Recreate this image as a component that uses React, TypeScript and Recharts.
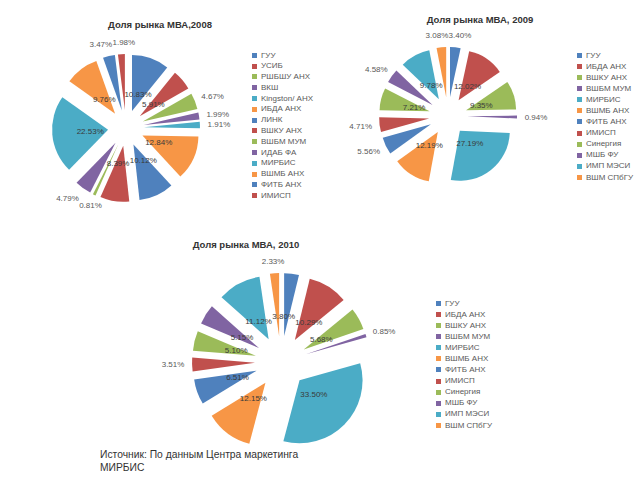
import React from 'react';
import { PieChart, Pie, Cell, Legend } from 'recharts';

// Excel 2007 palette, repeats after six slices
const palette = ['#4F81BD', '#C0504D', '#9BBB59', '#8064A2', '#4BACC6', '#F79646'];

const schools2008 = [
  'ГУУ', 'УСИБ', 'РШБШУ АНХ', 'ВКШ', 'Kingston/ АНХ', 'ИБДА АНХ', 'ЛИНК',
  'ВШКУ АНХ', 'ВШБМ МУМ', 'ИДАБ ФА', 'МИРБИС', 'ВШМБ АНХ', 'ФИТБ АНХ', 'ИМИСП',
];
const share2008 = [10.83, 5.91, 4.67, 1.99, 1.91, 12.84, 10.12, 8.39, 0.81, 4.79, 22.53, 9.76, 3.47, 1.98];

const schools2009 = [
  'ГУУ', 'ИБДА АНХ', 'ВШКУ АНХ', 'ВШБМ МУМ', 'МИРБИС', 'ВШМБ АНХ',
  'ФИТБ АНХ', 'ИМИСП', 'Синергия', 'МШБ ФУ', 'ИМП МЭСИ', 'ВШМ СПбГУ',
];
const share2009 = [3.4, 12.02, 9.35, 0.94, 27.19, 12.19, 5.56, 4.71, 7.21, 4.58, 9.78, 3.08];

const schools2010 = schools2009;
const share2010 = [3.8, 10.29, 5.68, 0.85, 33.5, 12.15, 6.51, 3.51, 5.1, 5.15, 11.12, 2.33];

const sourceLines = ['Источник: По данным Центра маркетинга', 'МИРБИС'];

const FONT = '"Liberation Sans", Arial, sans-serif';

type LabelPos = { x: number; y: number; w: number; h: number; text: string; outside: boolean };

// slice geometry, clockwise from 12 o'clock like Excel
function sliceDirs(values: number[]) {
  const total = values.reduce((a, b) => a + b, 0);
  let cum = 0;
  return values.map((v) => {
    const t = ((cum + v / 2) / total) * 2 * Math.PI;
    cum += v;
    return { ux: Math.sin(t), uy: -Math.cos(t) };
  });
}

function placeLabels(values: number[], cx: number, cy: number, r: number, d: number, outsideBelow: number) {
  const dirs = sliceDirs(values);
  const h = 8;
  const rin = d + 0.32 * r;
  const rout = r + d + 8;
  const res: LabelPos[] = values.map((v, i) => {
    const { ux, uy } = dirs[i];
    const text = v.toFixed(2) + '%';
    const w = text.length * 4.4;
    if (v >= outsideBelow) return { x: cx + ux * rin, y: cy + uy * rin, w, h, text, outside: false };
    return { x: cx + ux * rout + (ux * w) / 2, y: cy + uy * rout + (uy * h) / 2, w, h, text, outside: true };
  });
  // push overlapping labels apart sideways
  const all = res.slice();
  for (let pass = 0; pass < 4; pass++) {
    all.sort((a, b) => a.x - b.x);
    for (let i = 0; i < all.length; i++) {
      for (let j = i + 1; j < all.length; j++) {
        const a = all[i], b = all[j];
        const need = (a.w + b.w) / 2 + 1;
        if (Math.abs(a.y - b.y) < h && b.x - a.x < need) {
          const s = (need - (b.x - a.x)) / 2;
          a.x -= s;
          b.x += s;
        }
      }
    }
  }
  return res;
}

type Spec = {
  title: string;
  names: string[];
  values: number[];
  left: number;
  top: number;
  width: number;
  height: number;
  cx: number;
  cy: number;
  r: number;
  explode: number;
  outsideBelow: number;
  titleX: number;
  titleY: number;
  legendX: number;
  legendY: number;
  legendStep: number;
};

const ExplodedPie: React.FC<{ spec: Spec }> = ({ spec }) => {
  const data = spec.names.map((name, i) => ({ name, value: spec.values[i] }));
  const dirs = sliceDirs(spec.values);
  const labels = placeLabels(spec.values, spec.cx, spec.cy, spec.r, spec.explode, spec.outsideBelow);

  const renderLabel = (p: any) => {
    const l = labels[p.index];
    if (!l) return null;
    return (
      <text
        key={'lbl' + p.index}
        x={l.x}
        y={l.y}
        textAnchor="middle"
        dominantBaseline="central"
        fontSize={8}
        fontFamily={FONT}
        fill={l.outside ? '#595959' : '#3a3a3a'}
      >
        {l.text}
      </text>
    );
  };

  return (
    <div style={{ position: 'absolute', left: spec.left, top: spec.top, width: spec.width, height: spec.height }}>
      <div
        style={{
          position: 'absolute',
          left: spec.titleX - 100,
          top: spec.titleY - 6,
          width: 200,
          textAlign: 'center',
          fontSize: 9.5,
          fontWeight: 'bold',
          color: '#333',
          lineHeight: '12px',
          zIndex: 2,
        }}
      >
        {spec.title}
      </div>
      <PieChart width={spec.width} height={spec.height} margin={{ top: 0, right: 0, bottom: 0, left: 0 }}>
        <Pie
          data={data}
          dataKey="value"
          nameKey="name"
          cx={spec.cx}
          cy={spec.cy}
          outerRadius={spec.r}
          startAngle={90}
          endAngle={-270}
          stroke="none"
          labelLine={false}
          label={renderLabel}
          isAnimationActive={false}
        >
          {data.map((_, i) => (
            <Cell
              key={i}
              fill={palette[i % palette.length]}
              transform={`translate(${(dirs[i].ux * spec.explode).toFixed(2)}, ${(dirs[i].uy * spec.explode).toFixed(2)})`}
            />
          ))}
        </Pie>
        <Legend
          layout="vertical"
          align="right"
          verticalAlign="top"
          iconType="square"
          iconSize={5}
          itemSorter={null as any}
          formatter={(v: string) => <span style={{ color: '#595959' }}>{v}</span>}
          wrapperStyle={{
            left: spec.legendX,
            top: spec.legendY,
            right: 'auto',
            bottom: 'auto',
            width: 110,
            whiteSpace: 'nowrap',
            fontSize: 8,
            lineHeight: spec.legendStep + 'px',
            fontFamily: FONT,
          }}
        />
      </PieChart>
    </div>
  );
};

const charts: Spec[] = [
  {
    title: 'Доля рынка МВА,2008',
    names: schools2008,
    values: share2008,
    left: 0, top: 0, width: 320, height: 230,
    cx: 126, cy: 128, r: 56, explode: 18, outsideBelow: 5,
    titleX: 160, titleY: 25,
    legendX: 252, legendY: 50.5, legendStep: 10.8,
  },
  {
    title: 'Доля рынка МВА, 2009',
    names: schools2009,
    values: share2009,
    left: 320, top: 0, width: 320, height: 230,
    cx: 128, cy: 116, r: 50, explode: 19, outsideBelow: 6,
    titleX: 160, titleY: 20,
    legendX: 257, legendY: 49.5, legendStep: 11.1,
  },
  {
    title: 'Доля рынка МВА, 2010',
    names: schools2010,
    values: share2010,
    left: 0, top: 230, width: 640, height: 225,
    cx: 281, cy: 132, r: 63, explode: 26, outsideBelow: 3.6,
    titleX: 246, titleY: 15,
    legendX: 436, legendY: 67.5, legendStep: 11.1,
  },
];

export default function App() {
  return (
    <div
      style={{
        position: 'absolute',
        left: 0,
        top: 0,
        width: 640,
        height: 480,
        background: '#fff',
        fontFamily: FONT,
        overflow: 'hidden',
      }}
    >
      {charts.map((c) => (
        <ExplodedPie key={c.title} spec={c} />
      ))}
      <div
        style={{
          position: 'absolute',
          left: 100,
          top: 449,
          fontSize: 10.3,
          lineHeight: '12.5px',
          color: '#333',
          zIndex: 3,
        }}
      >
        {sourceLines.map((s) => (
          <div key={s}>{s}</div>
        ))}
      </div>
    </div>
  );
}
